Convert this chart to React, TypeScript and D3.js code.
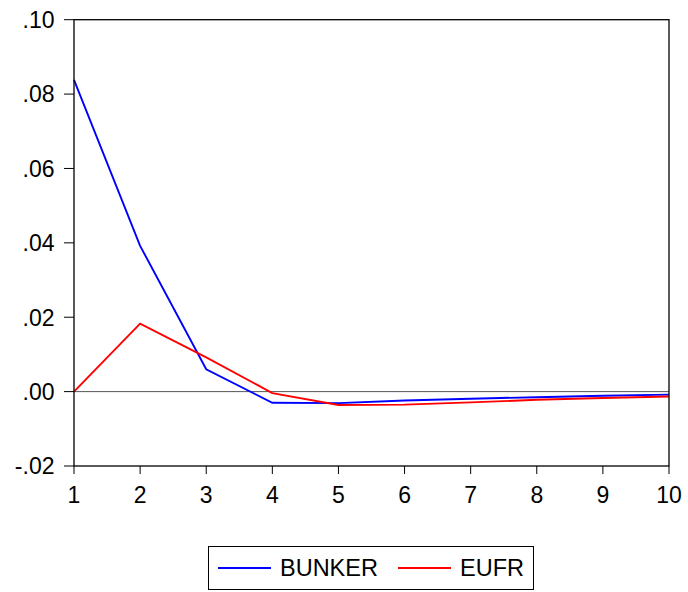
import React from "react";
import * as d3 from "d3";

const periods = [1, 2, 3, 4, 5, 6, 7, 8, 9, 10];
const bunker = [0.0838, 0.0392, 0.006, -0.003, -0.0031, -0.0024, -0.0019, -0.0015, -0.0011, -0.0008];
const eufr = [0.0, 0.0183, 0.0092, -0.0004, -0.0036, -0.0035, -0.0029, -0.0022, -0.0017, -0.0013];
const yTicks = [-0.02, 0.0, 0.02, 0.04, 0.06, 0.08, 0.1];
const seriesNames = ["BUNKER", "EUFR"];
const seriesColors = ["#0000ff", "#ff0000"];

const W = 688, H = 592;
const L = 74, R = 669, T = 19.7, B = 466;

function fmt(v: number) {
  const s = v.toFixed(2);
  return s.replace(/^(-?)0\./, "$1.");
}

export default function App() {
  const x = d3.scaleLinear().domain([1, 10]).range([L, R]);
  const y = d3.scaleLinear().domain([-0.02, 0.1]).range([B, T]);
  const line = d3.line<number>().x((_, i) => x(periods[i])).y((d) => y(d));
  const font = "'Liberation Sans', Arial, sans-serif";
  const data = [bunker, eufr];
  return (
    <svg width={W} height={H} style={{ position: "absolute", left: 0, top: 0 }} fontFamily={font}>
      <rect x={0} y={0} width={W} height={H} fill="#fff" />
      <line x1={L} x2={R} y1={y(0)} y2={y(0)} stroke="#555" strokeWidth={1} />
      {data.map((s, k) => (
        <path key={k} d={line(s) || ""} fill="none" stroke={seriesColors[k]} strokeWidth={1.9} />
      ))}
      <rect x={L} y={T} width={R - L} height={B - T} fill="none" stroke="#000" strokeWidth={1.3} />
      {yTicks.map((t) => (
        <g key={t}>
          <line x1={L - 10} x2={L} y1={y(t)} y2={y(t)} stroke="#000" strokeWidth={1} />
          <text x={54.5} y={y(t)} dy="0.36em" textAnchor="end" fontSize={23} fill="#000">{fmt(t)}</text>
        </g>
      ))}
      {periods.map((p) => (
        <g key={p}>
          <line x1={x(p)} x2={x(p)} y1={B} y2={B + 8} stroke="#000" strokeWidth={1} />
          <text x={x(p)} y={502.5} textAnchor="middle" fontSize={23} fill="#000">{p}</text>
        </g>
      ))}
      <rect x={208.5} y={546.5} width={325} height={43} fill="none" stroke="#000" strokeWidth={1} />
      {seriesNames.map((n, k) => {
        const x0 = k === 0 ? 218 : 398;
        return (
          <g key={n}>
            <line x1={x0} x2={x0 + 53} y1={568} y2={568} stroke={seriesColors[k]} strokeWidth={1.9} />
            <text x={x0 + 62} y={576} fontSize={23.5} fill="#000">{n}</text>
          </g>
        );
      })}
    </svg>
  );
}
